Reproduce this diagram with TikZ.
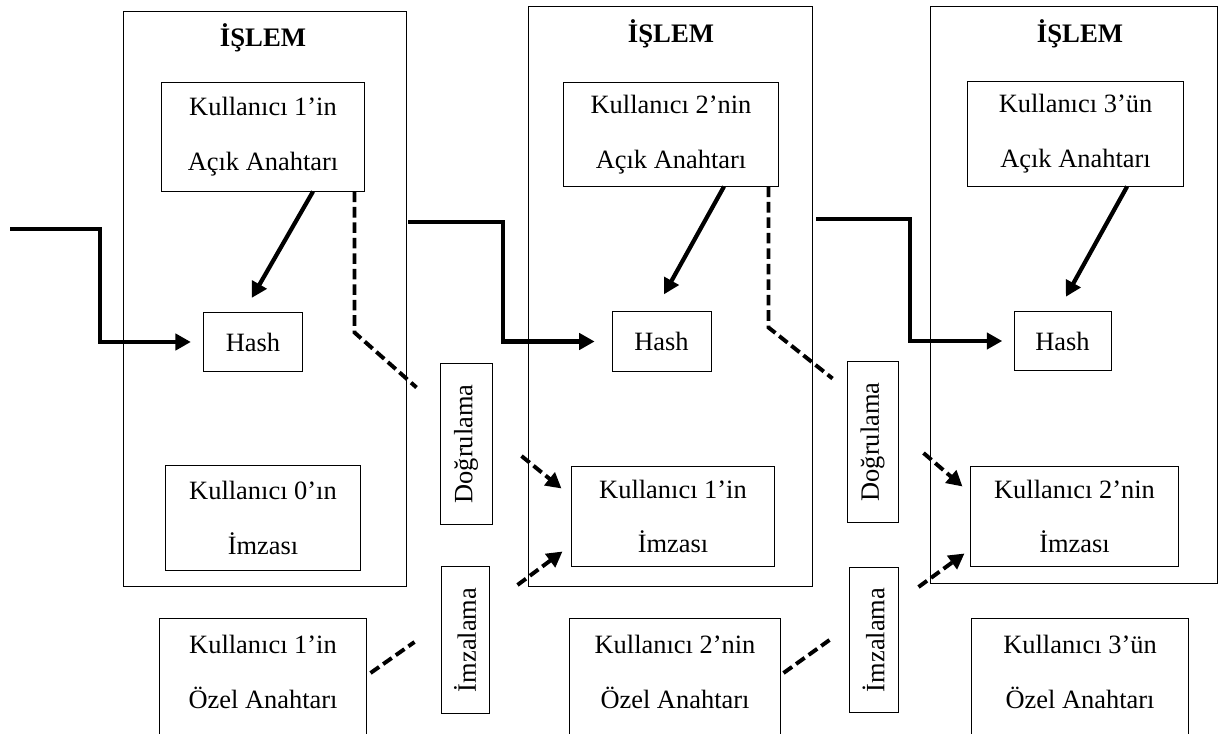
\documentclass[tikz,border=0pt]{standalone}
\usepackage{fontspec}
\setmainfont{Liberation Serif}
\usepackage{graphicx}
\usetikzlibrary{arrows.meta, fit}

\begin{document}
\begin{tikzpicture}[
        x=0.025cm, y=-0.025cm,
        islem/.style={rectangle, draw, line width=0.7pt, inner sep=0pt},
        baslik/.style={font=\fontsize{19}{39}\selectfont\bfseries, anchor=base},
        kutu/.style={rectangle, draw, line width=0.7pt, align=center, font=\fontsize{18.8}{39}\selectfont},
        ozel/.style={kutu, anchor=north, inner ysep=12pt, text depth=60pt},
        kalin/.style={line width=3pt, -{Triangle[length=11pt, width=11.5pt]}},
        kesik/.style={line width=2.8pt, dash pattern=on 7.5pt off 3.5pt},
        kesikok/.style={kesik, -{Triangle[length=11pt, width=11.5pt]}}
    ]
    \useasboundingbox (0,0) rectangle (1219,734);

    % İşlem kutuları
    \node[islem, fit={(123,11) (406,586)}] (islem1) {};
    \node[islem, fit={(528,6) (812,586)}] (islem2) {};
    \node[islem, fit={(930,6) (1217,583)}] (islem3) {};
    \node[baslik] (baslik1) at (263,47) {İŞLEM};
    \node[baslik] (baslik2) at (671,43) {İŞLEM};
    \node[baslik] (baslik3) at (1080,43) {İŞLEM};

    % Açık anahtarlar
    \node[kutu, minimum width=5.05cm, minimum height=2.7cm] (acik1) at (263,137) {Kullanıcı 1’in\\Açık Anahtarı};
    \node[kutu, minimum width=5.35cm, minimum height=2.575cm] (acik2) at (671,134.5) {Kullanıcı 2’nin\\Açık Anahtarı};
    \node[kutu, minimum width=5.375cm, minimum height=2.6cm] (acik3) at (1075.5,134) {Kullanıcı 3’ün\\Açık Anahtarı};

    % Hash
    \node[kutu, minimum width=2.45cm, minimum height=1.45cm] (hash1) at (253,342) {Hash};
    \node[kutu, minimum width=2.475cm, minimum height=1.475cm] (hash2) at (661.5,341.5) {Hash};
    \node[kutu, minimum width=2.425cm, minimum height=1.45cm] (hash3) at (1062.5,341) {Hash};

    % İmzalar
    \node[kutu, minimum width=4.85cm, minimum height=2.6cm] (imza1) at (263,518) {Kullanıcı 0’ın\\İmzası};
    \node[kutu, minimum width=5.05cm, minimum height=2.475cm] (imza2) at (673,516.5) {Kullanıcı 1’in\\İmzası};
    \node[kutu, minimum width=5.175cm, minimum height=2.475cm] (imza3) at (1074.5,516.5) {Kullanıcı 2’nin\\İmzası};

    % Özel anahtarlar
    \node[ozel, minimum width=5.15cm] (ozel1) at (263,618) {Kullanıcı 1’in\\Özel Anahtarı};
    \node[ozel, minimum width=5.25cm] (ozel2) at (675,618) {Kullanıcı 2’nin\\Özel Anahtarı};
    \node[ozel, minimum width=5.4cm] (ozel3) at (1080,618) {Kullanıcı 3’ün\\Özel Anahtarı};

    % Doğrulama / İmzalama
    \node[kutu, minimum width=1.3cm, minimum height=4cm] (dogrulama1) at (466,444) {\rotatebox{90}{Doğrulama}};
    \node[kutu, minimum width=1.275cm, minimum height=4cm] (dogrulama2) at (872.5,442) {\rotatebox{90}{Doğrulama}};
    \node[kutu, minimum width=1.2cm, minimum height=3.65cm] (imzalama1) at (465,640) {\rotatebox{90}{İmzalama}};
    \node[kutu, minimum width=1.225cm, minimum height=3.6cm] (imzalama2) at (873.5,640) {\rotatebox{90}{İmzalama}};

    % Zincir bağlantıları
    \coordinate (giris) at (10,229);
    \coordinate (kose1) at (100,229);
    \coordinate (cikis1) at (408,222);
    \coordinate (kose2) at (503,222);
    \coordinate (cikis2) at (816,219);
    \coordinate (kose3) at (910,219);
    \draw[kalin, shorten >=9pt] (giris) -- (kose1) |- (hash1.west);
    \draw[kalin, shorten >=12pt] (cikis1) -- (kose2) |- (hash2.west);
    \draw[kalin, shorten >=8pt] (cikis2) -- (kose3) |- (hash3.west);

    % Açık anahtar -> Hash
    \draw[kalin, shorten >=12pt] ([xshift=1.25cm]acik1.south) -- ([xshift=-0.24cm]hash1.north);
    \draw[kalin, shorten >=14pt] ([xshift=1.325cm]acik2.south) -- ([xshift=-0.175cm]hash2.north);
    \draw[kalin, shorten >=12pt] ([xshift=1.29cm]acik3.south) -- ([xshift=-0.12cm]hash3.north);

    % Kesikli çizgiler
    \draw[kesik] ([xshift=-0.25cm]acik1.south east) -- ++(0,141) -- ++(62,55);
    \draw[kesik] ([xshift=-0.25cm]acik2.south east) -- ++(0,141) -- ++(64,51);
    \draw[kesikok] ([shift={(29,12)}]dogrulama1.east) -- ([shift={(-10,-28)}]imza2.west);
    \draw[kesikok] ([shift={(25,11)}]dogrulama2.east) -- ([shift={(-8,-30)}]imza3.west);
    \draw[kesikok] ([shift={(28,-55)}]imzalama1.east) -- ([shift={(-9,35)}]imza2.west);
    \draw[kesikok] ([shift={(20,-53)}]imzalama2.east) -- ([shift={(-6,37)}]imza3.west);
    \draw[kesik] ([shift={(4,55)}]ozel1.north east) -- ([shift={(-26,2)}]imzalama1.west);
    \draw[kesik] ([shift={(3,55)}]ozel2.north east) -- ([shift={(-19,0)}]imzalama2.west);
\end{tikzpicture}
\end{document}
